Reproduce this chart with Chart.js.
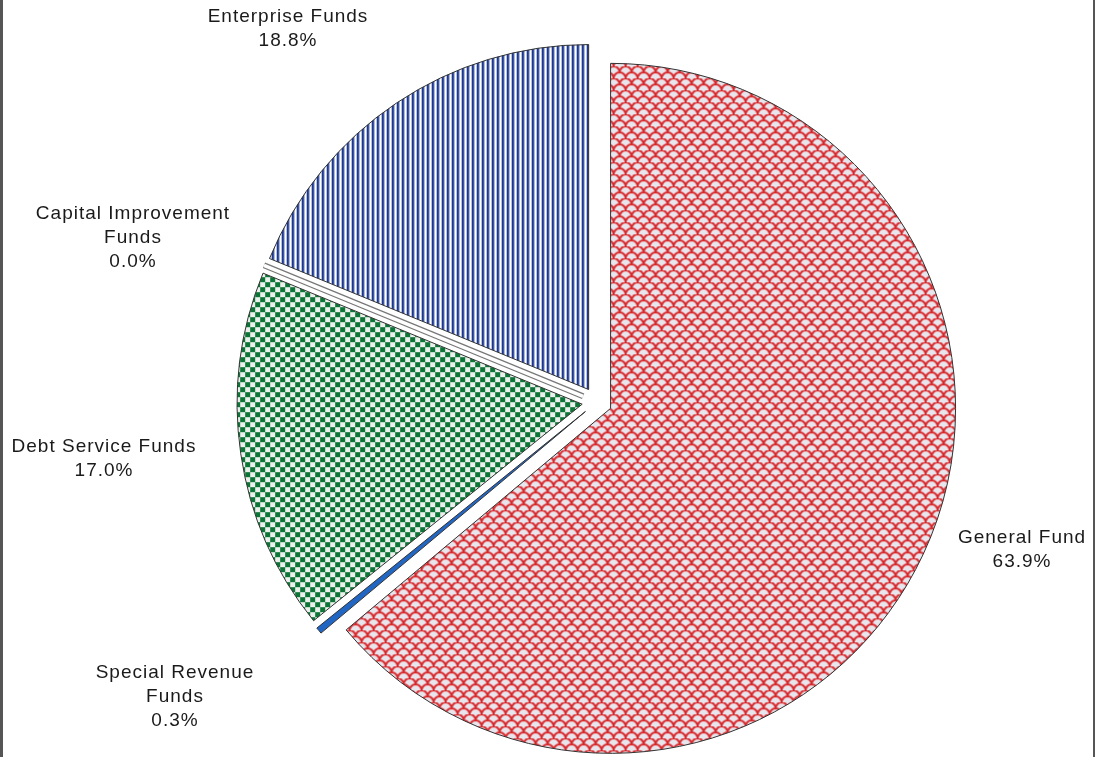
<!DOCTYPE html>
<html>
<head>
<meta charset="utf-8">
<script src="https://cdn.jsdelivr.net/npm/chart.js@4.4.0/dist/chart.umd.min.js"></script>
<style>
  html, body { margin: 0; padding: 0; background: #fff; overflow: hidden; }
  canvas { display: block; }
</style>
</head>
<body>
<canvas id="fund-chart" width="1095" height="757"></canvas>
<script>
// fund shares (%), clockwise from 12 o'clock
const categories = [
    ["General Fund"],
    ["Special Revenue", "Funds"],
    ["Debt Service Funds"],
    ["Capital Improvement", "Funds"],
    ["Enterprise Funds"],
];
const shares = [63.9, 0.3, 17.0, 0.0, 18.8];

// label block centres (first line)
const labelAnchors = [[1022, 538], [175, 673], [104, 447], [133, 214], [288, 17]];

const EXPLODE = 15; // px every slice is pulled out
const canvas = document.getElementById("fund-chart");
const ctx = canvas.getContext("2d");

function makePattern(w, h, draw) {
    const c = document.createElement("canvas");
    c.width = w;
    c.height = h;
    const g = c.getContext("2d");
    draw(g, w, h);
    return ctx.createPattern(c, "repeat");
}

// red scales on grey
const scales = makePattern(12, 12, (g, w, h) => {
    g.fillStyle = "#e8e6ec";
    g.fillRect(0, 0, w, h);
    g.strokeStyle = "#d8262a";
    g.lineWidth = 1.9;
    [[6, 12], [0, 6], [12, 6]].forEach(([x, y]) => {
        g.beginPath();
        g.arc(x, y, 6, Math.PI, 2 * Math.PI);
        g.stroke();
    });
});

// navy vertical stripes
const stripes = makePattern(5, 5, (g, w, h) => {
    g.fillStyle = "#ffffff";
    g.fillRect(0, 0, w, h);
    g.fillStyle = "#1b3892";
    g.fillRect(0, 0, 2.5, h);
});

// green checkerboard
const checks = makePattern(10, 10, (g, w, h) => {
    g.fillStyle = "#eef0ee";
    g.fillRect(0, 0, w, h);
    g.fillStyle = "#0b7636";
    g.fillRect(0, 0, 5, 5);
    g.fillRect(5, 5, 5, 5);
});

const fills = [scales, "#2266c4", checks, "#ffffff", stripes];

const frame = {
    id: "frame",
    beforeDraw(chart) {
        const c = chart.ctx;
        c.save();
        c.fillStyle = "#fff";
        c.fillRect(0, 0, chart.width, chart.height);
        c.fillStyle = "#555";
        c.fillRect(0, 0, 3, chart.height);
        c.fillRect(chart.width - 2, 0, 2, chart.height);
        c.restore();
    },
};

// Excel-style explosion: shift each slice along its mid angle, keep the radius.
// Zero-size slices are still drawn, as a double line.
const explodedSlices = {
    id: "explodedSlices",
    beforeDatasetsDraw(chart) {
        const c = chart.ctx;
        const meta = chart.getDatasetMeta(0);
        meta.data.forEach((arc, i) => {
            const mid = (arc.startAngle + arc.endAngle) / 2;
            c.save();
            c.translate(Math.cos(mid) * EXPLODE, Math.sin(mid) * EXPLODE);
            if (shares[i] !== 0) {
                arc.draw(c);
            } else {
                const x1 = arc.x + Math.cos(mid) * arc.outerRadius;
                const y1 = arc.y + Math.sin(mid) * arc.outerRadius;
                c.lineCap = "butt";
                c.strokeStyle = "#777";
                c.lineWidth = 6;
                c.beginPath(); c.moveTo(arc.x, arc.y); c.lineTo(x1, y1); c.stroke();
                c.strokeStyle = "#fff";
                c.lineWidth = 3.5;
                c.beginPath(); c.moveTo(arc.x, arc.y); c.lineTo(x1, y1); c.stroke();
            }
            c.restore();
        });
        return false;
    },
};

const sliceLabels = {
    id: "sliceLabels",
    afterDraw(chart) {
        const c = chart.ctx;
        c.save();
        c.font = "19px 'Liberation Sans', Arial, sans-serif";
        c.letterSpacing = "1px";
        c.fillStyle = "#1a1a1a";
        c.textAlign = "center";
        c.textBaseline = "middle";
        categories.forEach((lines, i) => {
            const [x, y] = labelAnchors[i];
            [...lines, shares[i].toFixed(1) + "%"].forEach((t, k) => c.fillText(t, x, y + k * 24));
        });
        c.restore();
    },
};

new Chart(ctx, {
    type: "pie",
    data: {
        labels: categories,
        datasets: [{
            data: shares,
            backgroundColor: fills,
            borderColor: "#333333",
            borderWidth: 1,
            borderJoinStyle: "miter",
            offset: 0,
            radius: 345,
        }],
    },
    options: {
        responsive: false,
        animation: false,
        events: [],
        layout: { padding: { left: 99, top: 47, right: 0, bottom: 0 } },
        plugins: { legend: { display: false }, tooltip: { enabled: false } },
    },
    plugins: [frame, explodedSlices, sliceLabels],
});
</script>
</body>
</html>
